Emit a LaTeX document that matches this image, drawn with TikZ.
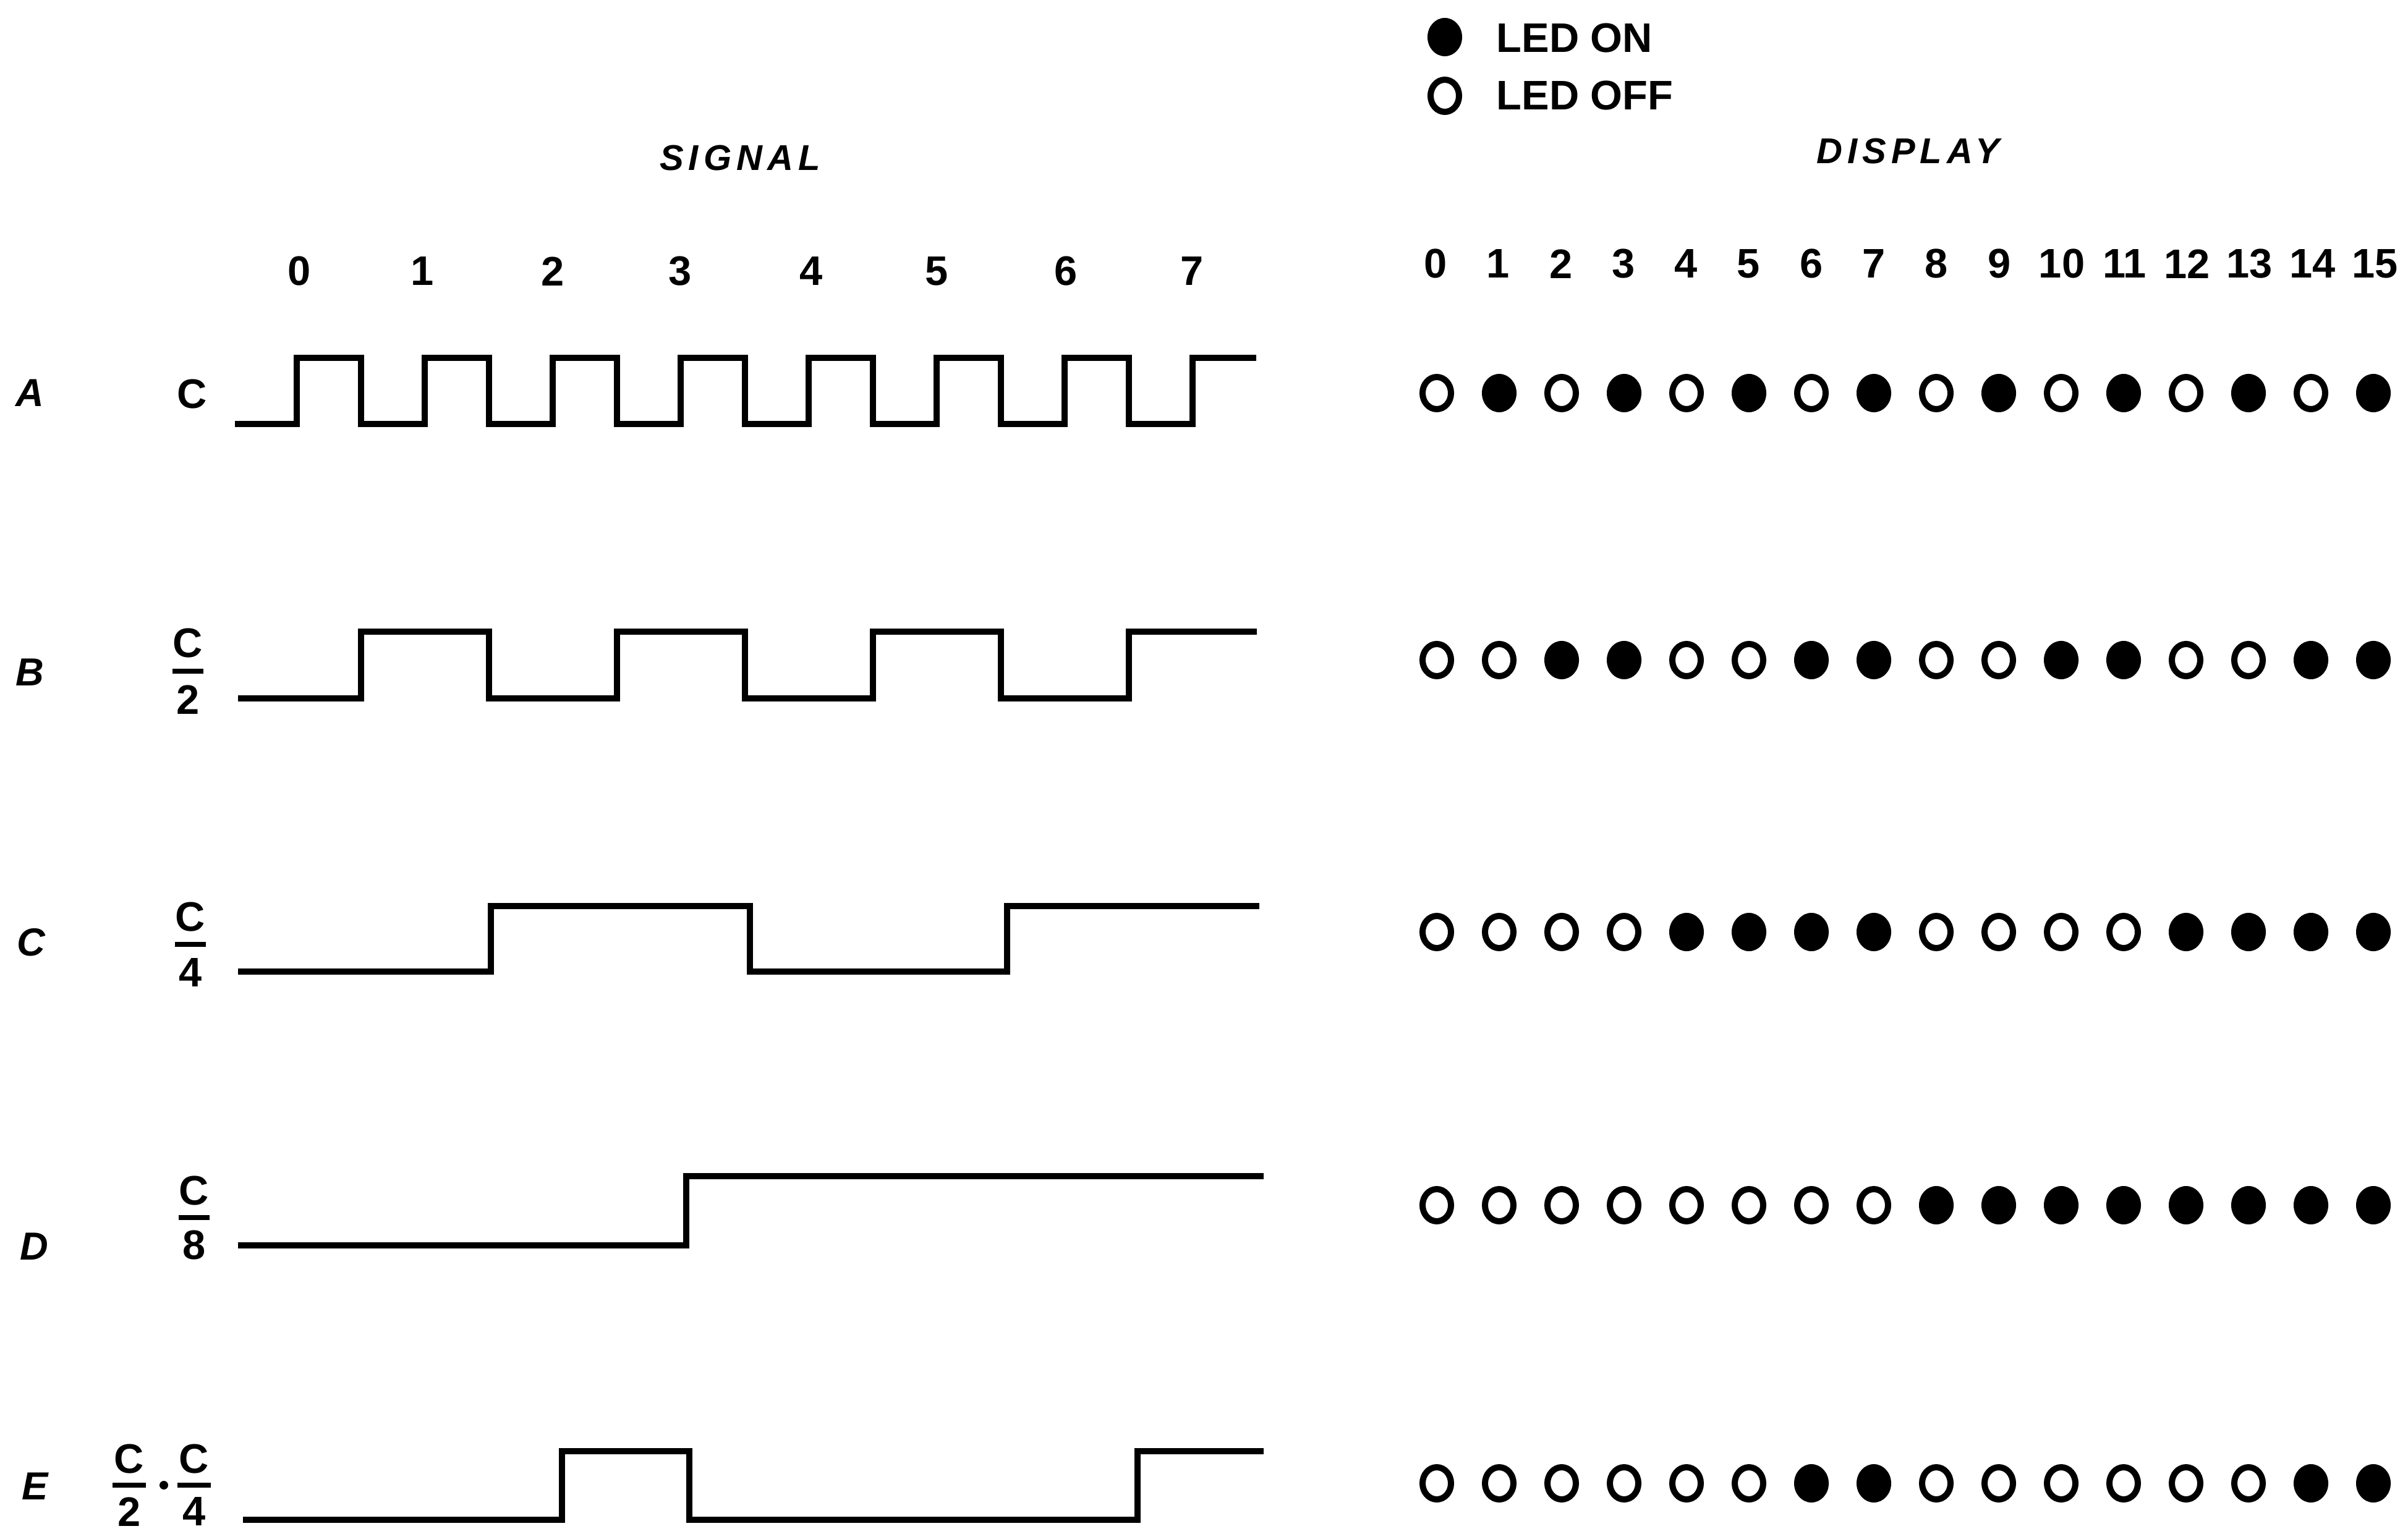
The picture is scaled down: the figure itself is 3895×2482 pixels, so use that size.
\documentclass[tikz,border=0pt]{standalone}
\usepackage{fontspec}
\setmainfont{Liberation Sans}
\usetikzlibrary{shapes.geometric}
\begin{document}
\begin{tikzpicture}[x=0.01cm,y=-0.01cm,
  txt/.style={font=\bfseries\fontsize{19}{21}\selectfont, inner sep=0pt},
  rowlbl/.style={font=\bfseries\itshape\fontsize{18}{20}\selectfont, inner sep=0pt},
  ttl/.style={font=\bfseries\itshape\fontsize{16.5}{20}\selectfont\addfontfeatures{LetterSpace=14}, inner sep=0pt},
  wave/.style={line width=0.1cm, line join=miter},
  fbar/.style={line width=0.08cm},
  ledon/.style={ellipse, fill=black, minimum width=0.56cm, minimum height=0.62cm, inner sep=0pt},
  ledoff/.style={ellipse, draw=black, line width=0.1cm, minimum width=0.46cm, minimum height=0.52cm, inner sep=0pt},
  dotmark/.style={circle, fill=black, minimum size=0.14cm, inner sep=0pt}]
\useasboundingbox[fill=white] (0,0) rectangle (3895,2482);

% legend
\node[ledon]  (legon)  at (2337,60) {};
\node[ledoff] (legoff) at (2337,155) {};
\node[txt, anchor=west] (legontxt)  at (2420,62)  {LED ON};
\node[txt, anchor=west] (legofftxt) at (2420,155) {LED OFF};

% titles
\node[ttl] (signal)  at (1197,256) {SIGNAL};
\node[ttl] (display) at (3086,245) {DISPLAY};

% signal time numbers
\foreach \n/\xx in {0/484,1/683,2/894,3/1100,4/1312,5/1515,6/1724,7/1928}
  \node[txt] (sn\n) at (\xx,439) {\n};

% display numbers
\foreach \n in {0,...,15}
  \node[txt] (dn\n) at ({2322+101.3*\n},427) {\n};

% row letters
\node[rowlbl] (rA) at (48,636)  {A};
\node[rowlbl] (rB) at (48,1088) {B};
\node[rowlbl] (rC) at (50,1525) {C};
\node[rowlbl] (rD) at (55,2017) {D};
\node[rowlbl] (rE) at (57,2405) {E};

% signal names
\node[txt] (sA) at (311,638) {C};
\node[txt] (sBn) at (304,1040) {C};
\node[txt] (sBd) at (304,1132) {2};
\draw[fbar] (304,1086) +(-25,0) -- +(25,0);
\node[txt] (sCn) at (308,1483) {C};
\node[txt] (sCd) at (308,1574) {4};
\draw[fbar] (308,1528) +(-25,0) -- +(25,0);
\node[txt] (sDn) at (314,1926) {C};
\node[txt] (sDd) at (314,2014) {8};
\draw[fbar] (314,1970) +(-25,0) -- +(25,0);
\node[txt] (sE1n) at (209,2360) {C};
\node[txt] (sE1d) at (209,2446) {2};
\draw[fbar] (209,2403) +(-27,0) -- +(27,0);
\node[dotmark] (sEdot) at (265,2403) {};
\node[txt] (sE2n) at (314,2360) {C};
\node[txt] (sE2d) at (314,2446) {4};
\draw[fbar] (314,2403) +(-27,0) -- +(27,0);

% waveforms
\draw[wave] (380,686) -| (480,579) -| (584,686) -| (687,579) -| (791,686)
  -| (894,579) -| (998,686) -| (1101,579) -| (1205,686) -| (1308,579)
  -| (1412,686) -| (1515,579) -| (1619,686) -| (1722,579) -| (1826,686)
  -| (1929,579) -- (2032,579);
\draw[wave] (385,1130) -| (584,1022) -| (791,1130) -| (998,1022) -| (1205,1130)
  -| (1412,1022) -| (1619,1130) -| (1826,1022) -- (2033,1022);
\draw[wave] (385,1572) -| (794,1466) -| (1213,1572) -| (1629,1466) -- (2037,1466);
\draw[wave] (385,2015) -| (1110,1903) -- (2044,1903);
\draw[wave] (393,2459) -| (909,2348) -| (1115,2459) -| (1840,2348) -- (2044,2348);

% LED rows
\foreach \i/\s in {0/ledoff,1/ledon,2/ledoff,3/ledon,4/ledoff,5/ledon,6/ledoff,7/ledon,
                   8/ledoff,9/ledon,10/ledoff,11/ledon,12/ledoff,13/ledon,14/ledoff,15/ledon}
  \node[\s] (la\i) at ({2324+101*\i},636) {};
\foreach \i/\s in {0/ledoff,1/ledoff,2/ledon,3/ledon,4/ledoff,5/ledoff,6/ledon,7/ledon,
                   8/ledoff,9/ledoff,10/ledon,11/ledon,12/ledoff,13/ledoff,14/ledon,15/ledon}
  \node[\s] (lb\i) at ({2324+101*\i},1068) {};
\foreach \i/\s in {0/ledoff,1/ledoff,2/ledoff,3/ledoff,4/ledon,5/ledon,6/ledon,7/ledon,
                   8/ledoff,9/ledoff,10/ledoff,11/ledoff,12/ledon,13/ledon,14/ledon,15/ledon}
  \node[\s] (lc\i) at ({2324+101*\i},1508) {};
\foreach \i/\s in {0/ledoff,1/ledoff,2/ledoff,3/ledoff,4/ledoff,5/ledoff,6/ledoff,7/ledoff,
                   8/ledon,9/ledon,10/ledon,11/ledon,12/ledon,13/ledon,14/ledon,15/ledon}
  \node[\s] (ld\i) at ({2324+101*\i},1950) {};
\foreach \i/\s in {0/ledoff,1/ledoff,2/ledoff,3/ledoff,4/ledoff,5/ledoff,6/ledon,7/ledon,
                   8/ledoff,9/ledoff,10/ledoff,11/ledoff,12/ledoff,13/ledoff,14/ledon,15/ledon}
  \node[\s] (le\i) at ({2324+101*\i},2400) {};
\end{tikzpicture}
\end{document}
